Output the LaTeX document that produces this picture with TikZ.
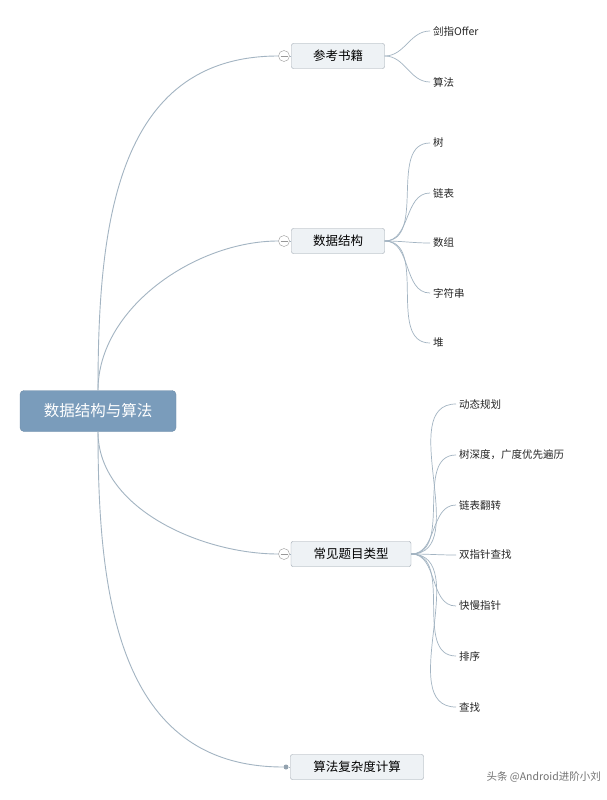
\documentclass[tikz,border=0pt]{standalone}
\usepackage{fontspec}
\setmainfont{Noto Sans CJK SC}
\usetikzlibrary{positioning, calc, shapes.geometric}
\definecolor{rootblue}{HTML}{7A9CBB}
\definecolor{linegray}{HTML}{A3B4C2}
\definecolor{boxfill}{HTML}{EEF2F5}
\definecolor{boxdraw}{HTML}{9AA4AE}

\begin{document}
\begin{tikzpicture}[x=1pt, y=-1pt,
            root/.style={rectangle, rounded corners=4pt, fill=rootblue, draw=rootblue!90!black, minimum width=156pt, minimum height=41pt, text=white, font=\fontsize{15.5}{18}\selectfont},
            topic/.style={rectangle, rounded corners=2pt, fill=boxfill, draw=boxdraw, minimum height=25pt, inner xsep=8pt, font=\fontsize{12.5}{15}\selectfont},
            leaf/.style={anchor=west, inner sep=3pt, text=black!85, font=\fontsize{10.5}{12}\selectfont},
            fold/.style={circle, draw=gray!80, fill=white, minimum size=11pt, inner sep=0pt},
            dot/.style={circle, fill=linegray!90!black, minimum size=5pt, inner sep=0pt},
            branch/.style={draw=linegray, line width=0.9pt},
            twig/.style={draw=linegray, line width=0.7pt}
        ]
            \useasboundingbox (0,0) rectangle (606,800);
            \fill[white] (0,0) rectangle (606,800);

            % Root
            \node[root] (r) at (98,411) {数据结构与算法};

            % Main topics
            \node[topic, minimum width=93pt] (t1) at (338,56) {参考书籍};
            \node[topic, minimum width=93pt] (t2) at (338,241) {数据结构};
            \node[topic, minimum width=120pt] (t3) at (351,554) {常见题目类型};
            \node[topic, minimum width=133pt] (t4) at (357,767) {算法复杂度计算};

            % Fold markers
            \node[fold] (c1) at (284,56) {};
            \node[fold] (c2) at (284,241) {};
            \node[fold] (c3) at (284,554) {};
            \node[dot] (c4) at (286,767) {};
            \foreach \i in {1,2,3} \draw[gray!80, line width=0.7pt] ($(c\i.center)+(-3.5,0)$) -- ($(c\i.center)+(3.5,0)$);

            % Root branches
            \draw[branch] (r.north) to[out=90, in=180, looseness=1.1] (c1.west);
            \draw[branch] (r.north) to[out=90, in=180, looseness=0.9] (c2.west);
            \draw[branch] (r.south) to[out=-90, in=180, looseness=0.9] (c3.west);
            \draw[branch] (r.south) to[out=-90, in=180, looseness=1.1] (c4.west);
            \foreach \i in {1,2,3} \draw[branch] (c\i.east) -- (t\i.west);
            \draw[branch] (c4.east) -- (t4.west);

            % Books
            \node[leaf] (b1) at (430,31) {剑指Offer};
            \node[leaf] (b2) at (430,82) {算法};
            \foreach \n in {b1,b2} \draw[twig] (t1.east) to[out=0, in=180] (\n.west);

            % Data structures
            \node[leaf] (d1) at (430,143) {树};
            \node[leaf] (d2) at (430,193) {链表};
            \node[leaf] (d3) at (430,243) {数组};
            \node[leaf] (d4) at (430,293) {字符串};
            \node[leaf] (d5) at (430,343) {堆};
            \foreach \n in {d1,d2,d3,d4,d5} \draw[twig] (t2.east) to[out=0, in=180] (\n.west);

            % Problem types
            \node[leaf] (p1) at (456,404) {动态规划};
            \node[leaf] (p2) at (456,455) {树深度，广度优先遍历};
            \node[leaf] (p3) at (456,505) {链表翻转};
            \node[leaf] (p4) at (456,555) {双指针查找};
            \node[leaf] (p5) at (456,606) {快慢指针};
            \node[leaf] (p6) at (456,656) {排序};
            \node[leaf] (p7) at (456,707) {查找};
            \foreach \n in {p1,p2,p3,p4,p5,p6,p7} \draw[twig] (t3.east) to[out=0, in=180] (\n.west);

            % Watermark
            \node[anchor=east, inner sep=0pt, text=black!55, font=\fontsize{10.5}{12}\selectfont] (wm) at (601,777) {头条 @Android进阶小刘};
        \end{tikzpicture}
\end{document}
